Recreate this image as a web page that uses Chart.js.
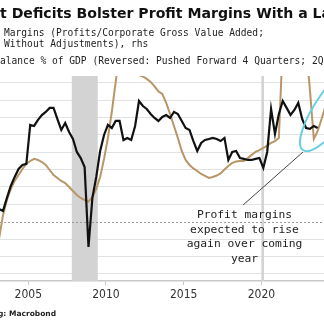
<!DOCTYPE html>
<html><head><meta charset="utf-8">
<script src="https://cdn.jsdelivr.net/npm/chart.js@4.4.1/dist/chart.umd.min.js"></script>
<style>
html,body{margin:0;padding:0;background:#fff;overflow:hidden;}
#wrap{position:relative;width:324px;height:326px;overflow:hidden;background:#fff;}
#c{position:absolute;left:0;top:0;}
.t{position:absolute;white-space:pre;color:#111;z-index:2;}
#title{left:0;top:5.4px;font:bold 14.1px/16px "DejaVu Sans";}
.lg{font:9.6px/12px "DejaVu Sans Mono";color:#222;}
#note{left:164.5px;width:160px;top:208.1px;text-align:center;font:11.3px/14.5px "DejaVu Sans Mono";color:#222;}
#src{left:-2px;top:309.2px;font:bold 7.5px/9px "DejaVu Sans";color:#222;}
</style></head>
<body><div id="wrap">
<canvas id="c" width="324" height="326"></canvas>
<div class="t" id="title">t Deficits Bolster Profit Margins With a Lag</div>
<div class="t lg" style="left:4px;top:26.7px">Margins (Profits/Corporate Gross Value Added;</div>
<div class="t lg" style="left:4px;top:38.4px">Without Adjustments), rhs</div>
<div class="t lg" style="left:-5.77px;top:54.7px">Balance % of GDP (Reversed: Pushed Forward 4 Quarters; 2Q</div>
<div class="t" id="note">Profit margins
expected to rise
again over coming
year</div>
<div class="t" id="src">g: Macrobond</div>
</div>
<script>
// quarterly observations, plotted mid-quarter, first = 2003 Q1
const firstQuarter = 2003.125;
// Corporate profit margins, % (rhs)
const profitMargin = [10.73,10.62,11.37,12.06,12.58,13.04,13.27,13.33,15.58,15.52,15.87,16.15,16.33,16.56,16.56,15.92,15.29,15.69,15.17,14.77,14.02,13.67,13.15,8.54,11.37,12.58,14.08,15.00,15.58,15.40,15.81,15.81,14.71,14.83,14.71,15.52,16.96,16.67,16.50,16.21,15.98,15.81,16.04,16.15,15.98,16.33,16.21,15.81,15.40,15.29,14.65,14.08,14.54,14.71,14.77,14.83,14.77,14.65,14.83,13.56,14.02,14.08,13.67,13.62,13.56,13.56,13.62,13.67,13.10,14.02,16.50,15.06,16.21,16.96,16.56,16.15,16.44,16.85,15.92,15.40,15.35,15.52,15.40];
// Current account balance % of GDP, reversed, pushed forward 4 quarters (lhs)
const currentAccountRev = [-0.94,0.39,1.25,1.89,2.35,2.69,3.04,3.33,3.50,3.62,3.56,3.44,3.27,2.98,2.69,2.52,2.35,2.23,2.00,1.77,1.54,1.37,1.25,1.16,1.42,1.89,2.58,3.62,4.83,6.33,8.06,9.61,10.19,10.19,9.61,8.52,8.46,8.37,8.23,8.06,7.80,7.51,7.36,6.85,6.21,5.52,4.83,4.08,3.56,3.27,3.07,2.92,2.75,2.64,2.52,2.58,2.66,2.78,3.01,3.21,3.39,3.47,3.50,3.50,3.67,3.85,4.02,4.13,4.25,4.39,4.54,4.65,4.83,10.30,11.05,11.34,11.34,11.05,10.72,10.19,7.59,4.77,5.23,5.92,6.67];
const tickYears = [2005, 2010, 2015, 2020];
const recessions = [[2007.80, 2009.47], [2020.0, 2020.17]];
const pointerFrom = [2018.82, 0.96];
const pointerTo = [2022.68, 4.02];
const highlightCenter = [2024.71, 6.73];

const toXY = (arr) => arr.map((v, i) => ({x: firstQuarter + i * 0.25, y: v}));

const deco = {
  id: 'deco',
  beforeDatasetsDraw(chart) {
    const {ctx, chartArea: a, scales: {x, y}} = chart;
    ctx.save();
    ctx.beginPath(); ctx.rect(a.left, a.top, a.right - a.left, a.bottom - a.top); ctx.clip();
    ctx.fillStyle = '#d3d3d3';
    recessions.forEach(([s, e]) => {
      const x0 = x.getPixelForValue(s), x1 = x.getPixelForValue(e);
      ctx.fillRect(x0, a.top, x1 - x0, a.bottom - a.top);
    });
    const y0 = Math.round(y.getPixelForValue(0)) + 0.5;
    ctx.strokeStyle = '#9a9a9a'; ctx.lineWidth = 1; ctx.setLineDash([2, 2]);
    ctx.beginPath(); ctx.moveTo(a.left, y0); ctx.lineTo(a.right, y0); ctx.stroke();
    ctx.restore();
  },
  afterDatasetsDraw(chart) {
    const {ctx, scales: {x, y}} = chart;
    ctx.save();
    ctx.strokeStyle = '#444'; ctx.lineWidth = 1;
    ctx.beginPath();
    ctx.moveTo(x.getPixelForValue(pointerFrom[0]), y.getPixelForValue(pointerFrom[1]));
    ctx.lineTo(x.getPixelForValue(pointerTo[0]), y.getPixelForValue(pointerTo[1]));
    ctx.stroke();
    ctx.strokeStyle = '#66d0e0'; ctx.lineWidth = 2;
    ctx.beginPath();
    ctx.ellipse(x.getPixelForValue(highlightCenter[0]), y.getPixelForValue(highlightCenter[1]), 55, 17, -55 * Math.PI / 180, 0, Math.PI * 2);
    ctx.stroke();
    ctx.restore();
  }
};

new Chart(document.getElementById('c'), {
  type: 'line',
  data: {
    datasets: [
      {label: 'Corporate Profit Margins, rhs', data: toXY(profitMargin), yAxisID: 'y1', borderColor: '#111', borderWidth: 2.2, pointRadius: 0, tension: 0, fill: false},
      {label: 'Current Account Balance % of GDP (Reversed)', data: toXY(currentAccountRev), yAxisID: 'y', borderColor: '#b89668', borderWidth: 2, pointRadius: 0, tension: 0, fill: false}
    ]
  },
  options: {
    responsive: false, animation: false, devicePixelRatio: 1,
    layout: {padding: {top: 76, bottom: 20.6, left: 0, right: 0}},
    plugins: {legend: {display: false}, tooltip: {enabled: false}, title: {display: false}},
    scales: {
      x: {
        type: 'linear', min: 2003.18, max: 2024.03,
        afterBuildTicks: s => { s.ticks = tickYears.map(v => ({value: v})); },
        ticks: {callback: v => String(v), autoSkip: false, maxRotation: 0, padding: 3, color: '#333', font: {family: 'DejaVu Sans Condensed, DejaVu Sans', size: 12}},
        grid: {drawOnChartArea: false, tickLength: 4, tickColor: '#c8c8c8'},
        border: {color: '#c8c8c8', width: 1.5}
      },
      y: {
        position: 'left', min: -3.42, max: 8.40,
        ticks: {display: false, stepSize: 1, includeBounds: false},
        grid: {drawTicks: false, lineWidth: 1, color: c => (c.tick && c.tick.value === 0) ? 'rgba(0,0,0,0)' : '#e2e2e2'},
        border: {display: false}
      },
      y1: {position: 'right', display: false, min: 6.58, max: 18.40}
    }
  },
  plugins: [deco]
});
</script>
</body></html>
